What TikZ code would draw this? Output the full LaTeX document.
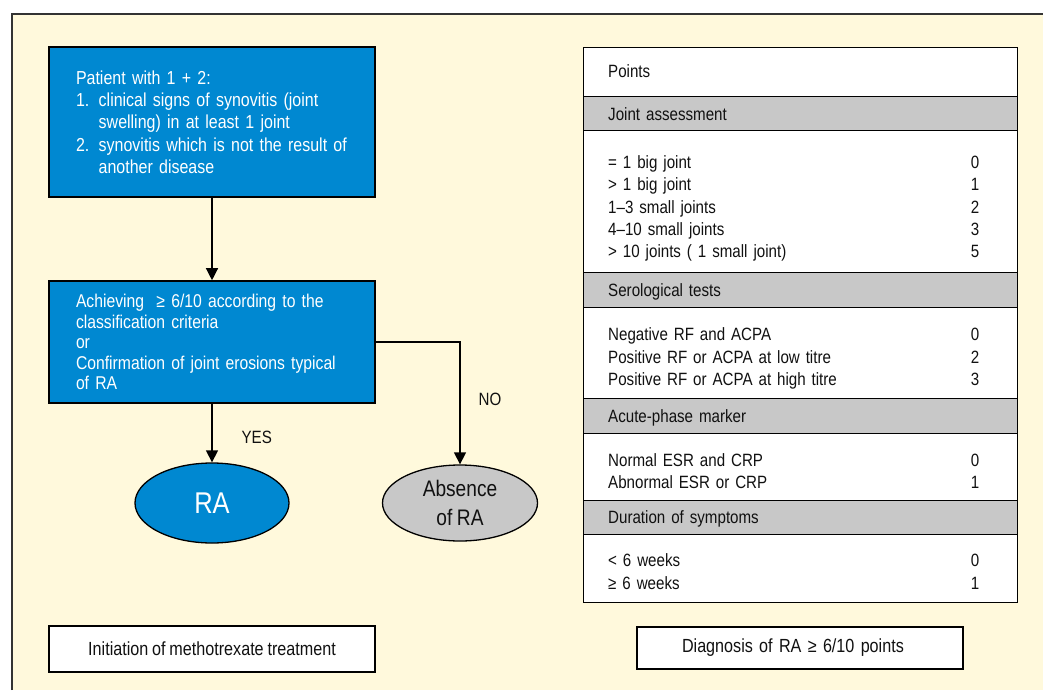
\documentclass[tikz,border=0pt]{standalone}
\usepackage{fontspec}
\setmainfont[FakeStretch=0.85, WordSpace=0.85]{Liberation Sans}
\usetikzlibrary{positioning, calc, arrows.meta, shapes.geometric}

\definecolor{cream}{HTML}{FFF9DC}
\definecolor{boxblue}{HTML}{0088D1}
\definecolor{bandgrey}{HTML}{C8C8C8}
\definecolor{inkgrey}{HTML}{111111}

\newcommand{\boxfont}{\fontsize{18.8}{22.3}\selectfont}
\newcommand{\tabfont}{\fontsize{17.8}{21}\selectfont}
\newcommand{\footfont}{\fontsize{19}{21}\selectfont}

\tikzset{
  bluebox/.style={draw=black, line width=1.6pt, fill=boxblue, text=white,
    text width=272pt, inner xsep=27pt, inner ysep=0pt, align=left, font=\boxfont},
  whitebox/.style={draw=black, line width=1.4pt, fill=white, text=inkgrey,
    minimum width=326pt, inner sep=0pt, font=\footfont},
  band/.style={draw=black, line width=1.4pt, fill=white, minimum width=434pt,
    inner sep=0pt, anchor=north west},
  greyband/.style={band, fill=bandgrey},
  row/.style={anchor=base west, inner sep=0pt, text width=371pt, align=left,
    text=inkgrey, font=\tabfont},
  arr/.style={line width=1.3pt, -{Triangle[width=12pt, length=12pt]}},
  lbl/.style={inner sep=0pt, text=inkgrey, font=\tabfont},
}

\begin{document}
\begin{tikzpicture}[x=1pt, y=-1pt]
        \useasboundingbox (0,0) rectangle (1043,690);

        % the background
        \fill[cream] (12,14) rectangle (1043,690);
        \draw[line width=1.5pt, color=black!80] (12,690) -- (12,14) -- (1043,14);

        % flow chart
        \node[bluebox, minimum height=150pt] (patient) at (212,122) {%
            Patient with 1 + 2:\\
            1. clinical signs of synovitis (joint\\
            \phantom{1. }swelling) in at least 1 joint\\
            2. synovitis which is not the result of\\
            \phantom{2. }another disease};
        \node[bluebox, minimum height=122pt, font=\fontsize{18.5}{20.5}\selectfont] (criteria) at (212,342) {%
            Achieving~ ≥ 6/10 according to the\\
            classification criteria\\
            or\\
            Confirmation of joint erosions typical\\
            of RA};

        \node[ellipse, draw=black, line width=1.3pt, fill=boxblue, text=white,
              minimum width=154pt, minimum height=80pt, inner sep=0pt,
              font=\fontsize{30}{30}\selectfont] (ra) at (212,503) {RA};
        \node[ellipse, draw=black, line width=1.3pt, fill=bandgrey, text=inkgrey,
              minimum width=155pt, minimum height=76pt, inner sep=0pt, align=center,
              font=\fontsize{22.5}{29}\selectfont] (absence) at (460,503) {Absence\\of RA};

        \draw[arr] (patient.south) -- (criteria.north);
        \draw[arr] (criteria.south) -- node[lbl, pos=0.67, anchor=base west, xshift=29pt] {YES} (ra.north);
        \draw[arr] (criteria.east) -| node[lbl, pos=0.76, anchor=base west, xshift=18pt] {NO} (absence.north);

        \node[whitebox, minimum height=46pt] (mtx) at (212,649) {Initiation of methotrexate treatment};

        % points table
        \node[band, minimum height=49pt] (pointsband) at (583,47) {};
        \node[greyband, minimum height=34pt] (jointhead) at (583,96) {};
        \node[band, minimum height=142pt] (jointbody) at (583,130) {};
        \node[greyband, minimum height=35pt] (serohead) at (583,272) {};
        \node[band, minimum height=91pt] (serobody) at (583,307) {};
        \node[greyband, minimum height=35pt] (acutehead) at (583,398) {};
        \node[band, minimum height=67pt] (acutebody) at (583,433) {};
        \node[greyband, minimum height=34pt] (durhead) at (583,500) {};
        \node[band, minimum height=68pt] (durbody) at (583,534) {};

        \node[row] (points) at (608,78) {Points};
        \node[row] (joint) at (608,121) {Joint assessment};
        \node[row] (joint1) at (608,168) {= 1 big joint\hfill 0};
        \node[row] (joint2) at (608,190) {> 1 big joint\hfill 1};
        \node[row] (joint3) at (608,213) {1–3 small joints\hfill 2};
        \node[row] (joint4) at (608,235) {4–10 small joints\hfill 3};
        \node[row] (joint5) at (608,257) {> 10 joints ( 1 small joint)\hfill 5};
        \node[row] (sero) at (608,296) {Serological tests};
        \node[row] (sero1) at (608,340) {Negative RF and ACPA\hfill 0};
        \node[row] (sero2) at (608,363) {Positive RF or ACPA at low titre\hfill 2};
        \node[row] (sero3) at (608,385) {Positive RF or ACPA at high titre\hfill 3};
        \node[row] (acute) at (608,422) {Acute-phase marker};
        \node[row] (acute1) at (608,466) {Normal ESR and CRP\hfill 0};
        \node[row] (acute2) at (608,488) {Abnormal ESR or CRP\hfill 1};
        \node[row] (dur) at (608,523) {Duration of symptoms};
        \node[row] (dur1) at (608,566) {< 6 weeks\hfill 0};
        \node[row] (dur2) at (608,589) {≥ 6 weeks\hfill 1};

        \node[whitebox, minimum height=42pt, text width=236pt, inner xsep=45pt, align=left] (diagnosis) at (800,648) {Diagnosis of RA ≥ 6/10 points\hfill};
\end{tikzpicture}
\end{document}
